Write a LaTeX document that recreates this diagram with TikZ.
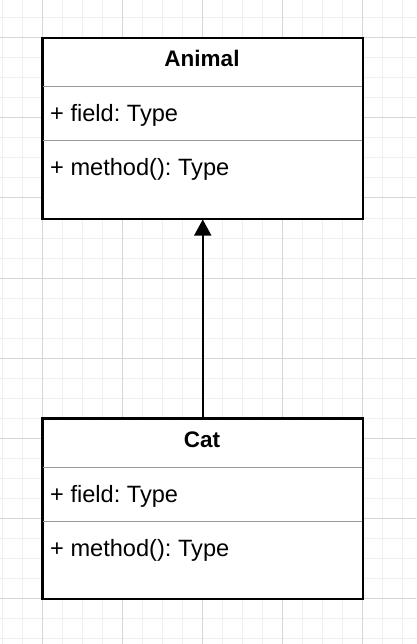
\documentclass[tikz,border=0pt]{standalone}
\usepackage{fontspec}
\setmainfont{Liberation Sans}
\usetikzlibrary{arrows.meta}
\frenchspacing
\begin{document}
\begin{tikzpicture}[x=1pt,y=-1pt,
  classbox/.style={draw=black, line width=1.5pt, fill=white, rectangle, minimum width=320pt, minimum height=180pt, inner sep=0pt, anchor=north west},
  sepline/.style={draw=black!40, line width=1pt},
  title/.style={font=\fontsize{22.5}{26}\selectfont\bfseries, anchor=base, inner sep=0pt},
  member/.style={font=\fontsize{23.6}{26}\selectfont, anchor=base west, inner sep=0pt},
  minorgrid/.style={draw=black!6, line width=1pt},
  majorgrid/.style={draw=black!16, line width=1pt},
  inherit/.style={draw=black, line width=1.5pt, -{Triangle[length=16pt,width=17pt]}}
]
\useasboundingbox (0,0) rectangle (416,644);
\fill[white] (0,0) rectangle (416,644);
% grid
\foreach \x in {2,22,...,416} \draw[minorgrid] (\x,0) -- (\x,644);
\foreach \y in {-2,18,...,644} \draw[minorgrid] (0,\y) -- (416,\y);
\foreach \x in {42,122,...,416} \draw[majorgrid] (\x,0) -- (\x,644);
\foreach \y in {38,118,...,644} \draw[majorgrid] (0,\y) -- (416,\y);
% Animal
\node[classbox] (animal) at (42,38) {};
\node[title] (animalname) at (202,67) {Animal};
\draw[sepline] (42,87) -- (362,87);
\node[member] (animalfield) at (50,122) {+ field: Type};
\draw[sepline] (42,141) -- (362,141);
\node[member] (animalmethod) at (50,176) {+ method(): Type};
% Cat
\node[classbox] (cat) at (42,418) {};
\node[title] (catname) at (202,447) {Cat};
\draw[sepline] (42,467) -- (362,467);
\node[member] (catfield) at (50,502) {+ field: Type};
\draw[sepline] (42,521) -- (362,521);
\node[member] (catmethod) at (50,556) {+ method(): Type};
% redraw borders over separators
\draw[line width=1.5pt] (animal.north west) rectangle (animal.south east);
\draw[line width=1.5pt] (cat.north west) rectangle (cat.south east);
% inheritance
\draw[inherit] (cat.north) -- (animal.south);
\end{tikzpicture}
\end{document}
